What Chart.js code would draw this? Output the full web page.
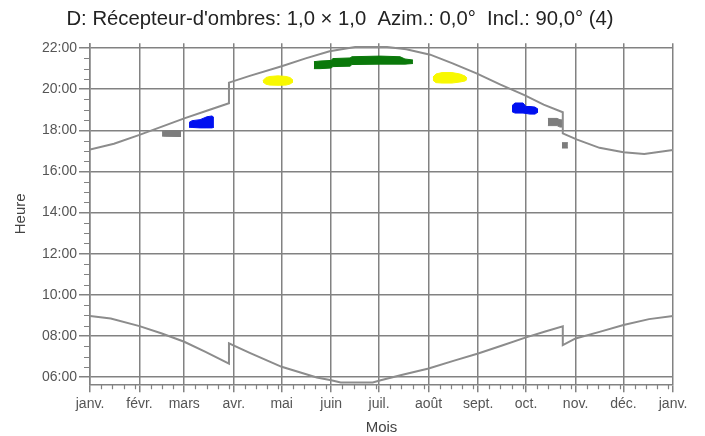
<!DOCTYPE html>
<html><head><meta charset="utf-8">
<script src="https://cdn.jsdelivr.net/npm/chart.js@4/dist/chart.umd.min.js"></script>
<style>html,body{margin:0;padding:0;background:#fff}</style>
</head><body>
<canvas id="c" width="705" height="436"></canvas>
<script>
// ---- axis data ----
const monthStarts = [0,31,59,90,120,151,181,212,243,273,304,334,365];
const monthLabels = ['janv.','févr.','mars','avr.','mai','juin','juil.','août','sept.','oct.','nov.','déc.','janv.'];
const hourTicks = [6,8,10,12,14,16,18,20,22];
const weekOffsets = [7,14,21,28];
const halfHourMinor = [6.5,7,7.5,8.5,9,9.5,10.5,11,11.5,12.5,13,13.5,14.5,15,15.5,16.5,17,17.5,18.5,19,19.5,20.5,21,21.5];

// ---- sun curves (day of year, hour) ----
const sunsetDays  = [0,15,31,45,59,74,87,87,100,120,135,150,166,186,198,213,227,242,257,272,284,296,296,305,319,334,347,365];
const sunsetHours = [17.07,17.35,17.78,18.18,18.58,18.98,19.32,20.32,20.65,21.12,21.50,21.85,22.05,22.05,21.94,21.68,21.26,20.77,20.22,19.71,19.25,18.88,17.85,17.55,17.15,16.94,16.85,17.05];
const sunriseDays  = [0,13,31,45,59,72,87,87,100,120,142,151,157,177,182,195,212,228,243,258,273,285,296,296,304,319,334,350,365];
const sunriseHours = [8.97,8.85,8.48,8.12,7.72,7.24,6.66,7.64,7.18,6.50,5.98,5.85,5.74,5.74,5.85,6.10,6.42,6.80,7.15,7.54,7.93,8.22,8.47,7.56,7.88,8.20,8.53,8.82,8.97];

// ---- shadow blobs (day, top hour, bottom hour) ----
const grayADays = [45.1,47.0,55.1,57.0];
const grayATop = [17.93,17.97,17.99,17.99];
const grayABottom = [17.72,17.71,17.70,17.70];
const blueADays = [62.0,63.9,68.9,73.2,76.4,77.6];
const blueATop = [18.38,18.47,18.52,18.66,18.70,18.62];
const blueABottom = [18.15,18.14,18.12,18.12,18.12,18.15];
const yellowADays = [108.3,110.2,112.7,117.7,122.7,125.2,127.1];
const yellowATop = [20.42,20.57,20.62,20.65,20.62,20.57,20.44];
const yellowABottom = [20.35,20.24,20.20,20.19,20.20,20.25,20.35];
const greenDays = [140.2,144.0,150.9,152.1,162.8,164.0,181.6,194.1,197.2,202.2];
const greenTop = [21.34,21.37,21.40,21.49,21.52,21.58,21.61,21.58,21.47,21.42];
const greenBottom = [21.00,21.00,21.03,21.10,21.12,21.20,21.22,21.22,21.22,21.25];
const yellowBDays = [214.7,216.6,220.4,226.6,231.6,234.8,236.0];
const yellowBTop = [20.59,20.74,20.81,20.81,20.74,20.64,20.54];
const yellowBBottom = [20.44,20.32,20.30,20.30,20.35,20.40,20.47];
const blueBDays = [264.2,266.1,271.1,273.0,275.5,278.6,280.5];
const blueBTop = [19.20,19.33,19.33,19.16,19.16,19.13,19.03];
const blueBBottom = [18.91,18.84,18.84,18.82,18.79,18.79,18.89];
const grayBDays = [286.7,292.4,294.2,296.1];
const grayBTop = [18.58,18.58,18.52,18.50];
const grayBBottom = [18.23,18.23,18.16,18.16];
const grayCDays = [295.5,299.2];
const grayCTop = [17.40,17.40];
const grayCBottom = [17.14,17.14];

const GRID = '#828282';
const FONT = '"Liberation Sans", Arial, sans-serif';

const pts = (xs, ys) => xs.map((x, i) => ({x, y: ys[i]}));
const datasets = [
  {data: pts(sunsetDays, sunsetHours), borderColor: '#8c8c8c', borderWidth: 2, pointRadius: 0, fill: false, tension: 0},
  {data: pts(sunriseDays, sunriseHours), borderColor: '#8c8c8c', borderWidth: 2, pointRadius: 0, fill: false, tension: 0}
];
const blobs = [
  [grayADays, grayATop, grayABottom, '#7d7d7d'],
  [blueADays, blueATop, blueABottom, '#0010f0'],
  [yellowADays, yellowATop, yellowABottom, '#f8f800'],
  [greenDays, greenTop, greenBottom, '#0a780a'],
  [yellowBDays, yellowBTop, yellowBBottom, '#f8f800'],
  [blueBDays, blueBTop, blueBBottom, '#0010f0'],
  [grayBDays, grayBTop, grayBBottom, '#7d7d7d'],
  [grayCDays, grayCTop, grayCBottom, '#7d7d7d']
];
for (const [d, t, b, c] of blobs) {
  datasets.push({data: pts(d, t), borderWidth: 1, borderColor: c, backgroundColor: c, pointRadius: 0, fill: false});
  datasets.push({data: pts(d, b), borderWidth: 1, borderColor: c, backgroundColor: c, pointRadius: 0, fill: '-1'});
}

const minorTicks = {
  id: 'minorTicks',
  afterDraw(chart) {
    const {ctx, scales: {x, y}} = chart;
    ctx.save();
    ctx.strokeStyle = GRID;
    ctx.lineWidth = 1.2;
    ctx.beginPath();
    for (const h of halfHourMinor) {
      const py = Math.round(y.getPixelForValue(h)) + 0.5;
      ctx.moveTo(y.right - 6, py); ctx.lineTo(y.right, py);
    }
    for (let i = 0; i < monthStarts.length - 1; i++) {
      for (const w of weekOffsets) {
        const d = monthStarts[i] + w;
        if (d >= monthStarts[i + 1]) continue;
        const px = Math.round(x.getPixelForValue(d)) + 0.5;
        ctx.moveTo(px, x.top); ctx.lineTo(px, x.top + 5);
      }
    }
    ctx.stroke();
    ctx.restore();
  }
};

new Chart(document.getElementById('c'), {
  type: 'line',
  data: {datasets},
  plugins: [minorTicks],
  options: {
    responsive: false,
    animation: false,
    devicePixelRatio: 1,
    layout: {padding: {left: 7, right: 32, top: 0, bottom: 0}},
    plugins: {
      legend: {display: false},
      tooltip: {enabled: false},
      title: {
        display: true,
        text: "D: Récepteur-d'ombres: 1,0 × 1,0  Azim.: 0,0°  Incl.: 90,0° (4)",
        color: '#222',
        font: {family: FONT, size: 20.3, weight: 'normal'},
        padding: {top: 7, bottom: 12}
      }
    },
    scales: {
      x: {
        type: 'linear', min: 0, max: 365,
        afterBuildTicks: s => { s.ticks = monthStarts.map(v => ({value: v})); },
        afterFit: s => { s.height = 51.7; },
        ticks: {autoSkip: false, maxRotation: 0, minRotation: 0, padding: 3, color: '#555',
          font: {family: FONT, size: 14},
          callback: v => monthLabels[monthStarts.indexOf(v)]},
        grid: {color: GRID, lineWidth: 1.5, tickLength: 8, tickColor: GRID, tickWidth: 1.5},
        border: {color: GRID, width: 1.5},
        title: {display: true, text: 'Mois', color: '#444', font: {family: FONT, size: 15}, padding: {top: 0, bottom: -1}}
      },
      y: {
        type: 'linear', min: 5.65, max: 22.23,
        afterBuildTicks: s => { s.ticks = hourTicks.map(v => ({value: v})); },
        afterFit: s => { s.width = 83; },
        ticks: {padding: 2, color: '#555', font: {family: FONT, size: 14},
          callback: v => (v < 10 ? '0' : '') + v + ':00'},
        grid: {color: GRID, lineWidth: 1.5, tickLength: 11, tickColor: GRID, tickWidth: 1.5},
        border: {color: GRID, width: 1.5},
        title: {display: true, text: 'Heure', color: '#444', font: {family: FONT, size: 15}, padding: {top: 5, bottom: 0}}
      }
    }
  }
});
</script>
</body></html>
